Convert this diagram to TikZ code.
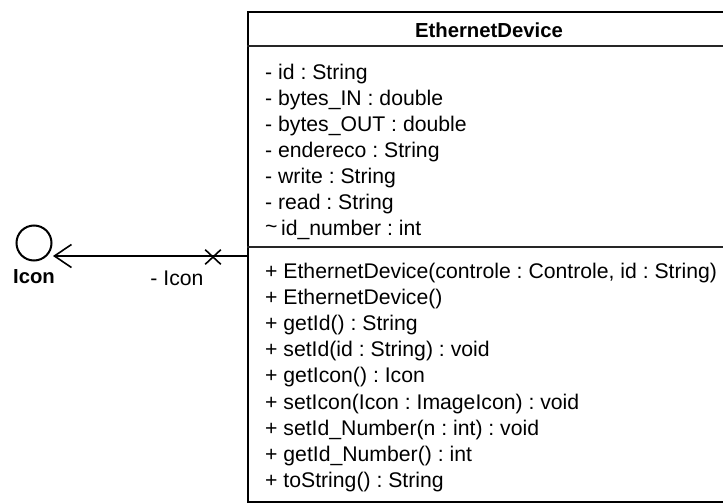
\documentclass[tikz,border=0pt]{standalone}
\usepackage{fontspec}
\setmainfont{Liberation Sans}
\usetikzlibrary{arrows.meta,shapes.misc}
\tikzset{
  umltext/.style={anchor=base west, inner sep=0pt, font=\fontsize{21.2}{26}\selectfont\frenchspacing, text=black},
  umltitle/.style={anchor=base, inner sep=0pt, font=\fontsize{20.3}{26}\bfseries\selectfont, text=black},
  classbox/.style={draw=black, line width=2pt, fill=white, inner sep=0pt},
  sepline/.style={draw=black!85, line width=1.6pt},
  assoc/.style={draw=black, line width=1.6pt},
  iface/.style={circle, draw=black, line width=2pt, inner sep=0pt, minimum size=35pt},
  xmark/.style={cross out, draw=black, line width=1.6pt, inner sep=0pt, minimum width=14pt, minimum height=13pt}
}
\begin{document}
\frenchspacing
\begin{tikzpicture}[x=1pt,y=-1pt]
\useasboundingbox (0,0) rectangle (723,503);
\clip (0,0) rectangle (723,503);
\fill[white] (0,0) rectangle (723,503);
% class box
\node[classbox, anchor=north west, minimum width=484pt, minimum height=490pt] (dev) at (247,11) {};
\draw[sepline] (dev.west |- 0,46) -- (dev.east |- 0,46);
\draw[sepline] (dev.west |- 0,247) -- (dev.east |- 0,247);
\node[umltitle] (title) at (489,37.5) {EthernetDevice};
% attributes
\node[umltext] (a1) at (265,79.5) {- id : String};
\node[umltext] (a2) at (265,105.5) {- bytes\_IN : double};
\node[umltext] (a3) at (265,131.5) {- bytes\_OUT : double};
\node[umltext] (a4) at (265,157.5) {- endereco : String};
\node[umltext] (a5) at (265,183.5) {- write : String};
\node[umltext] (a6) at (265,209.5) {- read : String};
\node[umltext] (a7) at (265,235.5) {\raisebox{0.15ex}{\char"007E}\,id\_number : int};
% methods
\node[umltext] (m1) at (265,278.5) {+ EthernetDevice(controle : Controle, id : String)};
\node[umltext] (m2) at (265,304.6) {+ EthernetDevice()};
\node[umltext] (m3) at (265,330.7) {+ getId() : String};
\node[umltext] (m4) at (265,356.8) {+ setId(id : String) : void};
\node[umltext] (m5) at (265,382.9) {+ getIcon() : Icon};
\node[umltext] (m6) at (265,409.0) {+ setIcon(Icon : ImageIcon) : void};
\node[umltext] (m7) at (265,435.1) {+ setId\_Number(n : int) : void};
\node[umltext] (m8) at (265,461.2) {+ getId\_Number() : int};
\node[umltext] (m9) at (265,487.3) {+ toString() : String};
% interface lollipop
\node[iface] (ic) at (34,243) {};
\node[umltitle] (iclabel) at (34,283.5) {Icon};
\coordinate (tip) at (53,256);
\draw[assoc, -{Straight Barb[length=17pt,width=23pt,line width=1.6pt]}] (dev.west |- tip) -- (tip);
\node[xmark] (xm) at (213,257) {};
\node[umltext, anchor=base] (role) at (177,285.5) {- Icon};
\end{tikzpicture}
\end{document}
